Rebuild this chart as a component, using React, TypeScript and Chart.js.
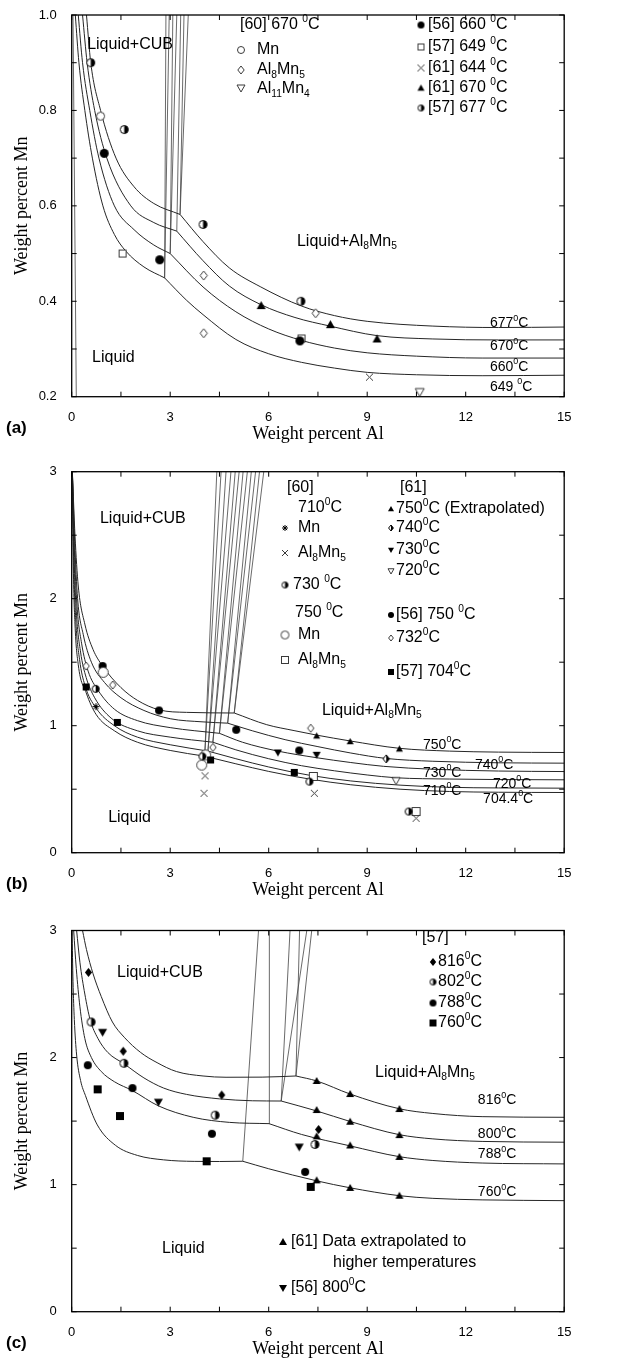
import React, { useEffect, useRef } from 'react';
import { Chart, registerables } from 'chart.js';

Chart.register(...registerables);

type P = [number, number];

// ---------- shared axes ----------
const X_TICKS = [0, 3, 6, 9, 12, 15];
const X_LABELS = ['0', '3', '6', '9', '12', '15'];
const X_MINOR = [1.5, 4.5, 7.5, 10.5, 13.5];
const A_Y_TICKS = [0.2, 0.4, 0.6, 0.8, 1.0];
const A_Y_LABELS = ['0.2', '0.4', '0.6', '0.8', '1.0'];
const A_Y_MINOR = [0.3, 0.5, 0.7, 0.9];
const BC_Y_TICKS = [0, 1, 2, 3];
const BC_Y_LABELS = ['0', '1', '2', '3'];
const BC_Y_MINOR = [0.5, 1.5, 2.5];

// ---------- panel (a) curves ----------
const a649L: P[] = [[0.11, 1.0], [0.22, 0.9], [0.4, 0.8], [0.63, 0.7], [0.95, 0.6], [1.3, 0.54], [1.65, 0.505], [2.2, 0.472], [2.83, 0.449]];
const a660L: P[] = [[0.2, 1.0], [0.33, 0.9], [0.55, 0.8], [0.83, 0.7], [1.3, 0.6], [1.9, 0.55], [2.5, 0.518], [3.0, 0.5]];
const a670L: P[] = [[0.33, 1.0], [0.47, 0.9], [0.7, 0.8], [1.07, 0.7], [1.8, 0.6], [2.5, 0.565], [3.2, 0.547]];
const a677L: P[] = [[0.45, 1.0], [0.58, 0.9], [0.88, 0.8], [1.35, 0.7], [1.9, 0.64], [2.5, 0.605], [3.3, 0.582]];
const a677R: P[] = [[3.3, 0.582], [4.0, 0.525], [4.8, 0.47], [5.76, 0.43], [7.0, 0.39], [8.0, 0.37], [9.0, 0.358], [11.0, 0.348], [13.0, 0.345], [15, 0.346]];
const a670R: P[] = [[3.2, 0.547], [4.0, 0.485], [4.8, 0.432], [5.76, 0.393], [6.8, 0.366], [7.87, 0.348], [9.3, 0.328], [11.0, 0.321], [13.0, 0.319], [15, 0.319]];
const a660R: P[] = [[3.0, 0.5], [4.0, 0.43], [5.0, 0.378], [6.0, 0.342], [7.0, 0.318], [8.0, 0.302], [9.0, 0.292], [10.5, 0.285], [12.5, 0.281], [15, 0.281]];
const a649R: P[] = [[2.83, 0.449], [3.5, 0.402], [4.0, 0.372], [5.0, 0.32], [6.0, 0.29], [7.0, 0.272], [8.0, 0.26], [9.0, 0.251], [10.5, 0.246], [12.5, 0.244], [15, 0.245]];
const aBounds: P[][] = [
  [[0.04, 1.0], [0.14, 0.2]],
  [[2.83, 0.449], [2.87, 1.0]], [[2.83, 0.449], [2.97, 1.0]],
  [[3.0, 0.5], [3.08, 1.0]], [[3.0, 0.5], [3.2, 1.0]],
  [[3.2, 0.547], [3.32, 1.0]],
  [[3.3, 0.582], [3.42, 1.0]], [[3.3, 0.582], [3.55, 1.0]],
];
// panel (a) measured points
const aMn60: P[] = [[0.88, 0.788]];
const aAl8Mn5_60: P[] = [[4.02, 0.454], [4.02, 0.333], [7.43, 0.375]];
const aAl11Mn4_60: P[] = [[10.6, 0.21]];
const a56_660: P[] = [[0.99, 0.71], [2.68, 0.487], [6.95, 0.317]];
const a57_649: P[] = [[1.55, 0.5], [7.0, 0.322]];
const a61_644: P[] = [[9.07, 0.241]];
const a61_670: P[] = [[5.77, 0.391], [7.88, 0.351], [9.3, 0.321]];
const a57_677: P[] = [[0.58, 0.9], [1.6, 0.76], [4.0, 0.561], [6.98, 0.4]];

// ---------- panel (b) curves ----------
const b750L: P[] = [[0.02, 3.0], [0.1, 2.5], [0.2, 2.1], [0.4, 1.8], [0.65, 1.6], [0.94, 1.47], [1.5, 1.3], [2.0, 1.2], [2.66, 1.125], [3.5, 1.105], [4.95, 1.1]];
const b740L: P[] = [[0.02, 3.0], [0.09, 2.45], [0.18, 2.0], [0.35, 1.72], [0.6, 1.5], [1.0, 1.34], [1.5, 1.22], [2.2, 1.12], [3.0, 1.055], [4.0, 1.03], [4.75, 1.02]];
const b730L: P[] = [[0.02, 3.0], [0.08, 2.4], [0.16, 1.95], [0.3, 1.65], [0.5, 1.43], [0.8, 1.28], [1.3, 1.13], [2.0, 1.04], [3.0, 0.985], [4.5, 0.94]];
const b720L: P[] = [[0.02, 3.0], [0.07, 2.35], [0.14, 1.9], [0.27, 1.58], [0.44, 1.38], [0.7, 1.22], [1.2, 1.06], [2.0, 0.96], [3.0, 0.91], [4.3, 0.87]];
const b710L: P[] = [[0.02, 3.0], [0.06, 2.3], [0.12, 1.85], [0.24, 1.52], [0.4, 1.32], [0.74, 1.14], [1.3, 1.0], [2.0, 0.91], [3.0, 0.85], [4.15, 0.8]];
const b704L: P[] = [[0.02, 3.0], [0.05, 2.25], [0.1, 1.8], [0.2, 1.48], [0.44, 1.26], [0.74, 1.09], [1.3, 0.96], [2.0, 0.87], [3.0, 0.805], [4.05, 0.76]];
const b750R: P[] = [[4.95, 1.1], [5.94, 1.008], [6.8, 0.96], [7.46, 0.926], [8.48, 0.88], [9.98, 0.822], [11.5, 0.8], [13, 0.792], [15, 0.789]];
const b740R: P[] = [[4.75, 1.02], [5.5, 0.96], [6.5, 0.89], [7.5, 0.835], [8.5, 0.785], [9.58, 0.742], [11, 0.72], [13, 0.708], [15, 0.705]];
const b730R: P[] = [[4.5, 0.94], [5.2, 0.87], [6.28, 0.8], [7.46, 0.748], [8.5, 0.71], [9.5, 0.68], [11, 0.657], [13, 0.643], [15, 0.639]];
const b720R: P[] = [[4.3, 0.87], [5.0, 0.81], [6.0, 0.74], [7.0, 0.685], [8.0, 0.645], [9.0, 0.612], [9.88, 0.59], [11.5, 0.58], [13, 0.576], [15, 0.574]];
const b710R: P[] = [[4.15, 0.8], [5.0, 0.74], [6.0, 0.675], [7.24, 0.61], [8.5, 0.565], [10, 0.532], [11.5, 0.515], [13, 0.51], [15, 0.508]];
const b704R: P[] = [[4.05, 0.76], [5.0, 0.7], [6.0, 0.64], [7.24, 0.58], [8.5, 0.535], [10, 0.5], [11.5, 0.482], [13, 0.476], [15, 0.474]];
const bBounds: P[][] = [
  [[4.05, 0.76], [4.42, 3]], [[4.05, 0.76], [4.55, 3]],
  [[4.15, 0.8], [4.7, 3]], [[4.15, 0.8], [4.85, 3]],
  [[4.3, 0.87], [4.98, 3]], [[4.3, 0.87], [5.1, 3]],
  [[4.5, 0.94], [5.22, 3]], [[4.5, 0.94], [5.35, 3]],
  [[4.75, 1.02], [5.47, 3]], [[4.75, 1.02], [5.6, 3]],
  [[4.95, 1.1], [5.72, 3]], [[4.95, 1.1], [5.85, 3]],
];
// panel (b) measured points
const bMn710: P[] = [[0.74, 1.15]];
const bAl710: P[] = [[4.06, 0.605], [4.03, 0.468], [7.39, 0.468], [10.49, 0.271]];
const b730_60: P[] = [[0.73, 1.29], [3.98, 0.758], [7.24, 0.56], [10.26, 0.324]];
const bMn750: P[] = [[0.96, 1.42], [3.96, 0.69], [4.08, 0.77]];
const bAl750: P[] = [[7.36, 0.6], [10.49, 0.324]];
const b61_750: P[] = [[7.46, 0.92], [8.48, 0.876], [9.98, 0.818]];
const b61_740: P[] = [[9.58, 0.739]];
const b61_730: P[] = [[6.28, 0.789], [7.46, 0.771]];
const b61_720: P[] = [[9.88, 0.568]];
const b56_750: P[] = [[0.94, 1.47], [2.66, 1.12], [5.01, 0.968], [6.93, 0.805]];
const b56_732: P[] = [[0.44, 1.47], [1.25, 1.32], [4.3, 0.829], [7.28, 0.98]];
const b57_704: P[] = [[0.44, 1.305], [1.39, 1.026], [4.23, 0.73], [6.78, 0.632]];

// ---------- panel (c) curves ----------
const c816L: P[] = [[0.33, 3.0], [0.45, 2.85], [0.65, 2.66], [0.9, 2.48], [1.24, 2.28], [1.6, 2.16], [2.1, 2.04], [2.6, 1.96], [3.19, 1.89], [4.0, 1.855], [4.7, 1.845], [5.8, 1.846], [6.83, 1.855]];
const c800L: P[] = [[0.15, 3.0], [0.25, 2.75], [0.4, 2.5], [0.56, 2.3], [0.8, 2.15], [1.1, 2.04], [1.6, 1.95], [2.2, 1.84], [2.8, 1.76], [3.5, 1.71], [4.5, 1.675], [5.5, 1.66], [6.38, 1.658]];
const c788L: P[] = [[0.06, 3.0], [0.14, 2.7], [0.25, 2.4], [0.4, 2.15], [0.6, 2.0], [0.9, 1.89], [1.3, 1.81], [1.85, 1.74], [2.64, 1.62], [3.7, 1.53], [4.8, 1.49], [6.01, 1.48]];
const c760L: P[] = [[0.01, 3.0], [0.04, 2.6], [0.08, 2.3], [0.15, 2.02], [0.27, 1.82], [0.42, 1.7], [0.78, 1.47], [1.33, 1.31], [2.0, 1.23], [2.8, 1.195], [3.73, 1.183], [4.5, 1.182], [5.21, 1.184]];
const c816R: P[] = [[6.83, 1.855], [7.46, 1.816], [8.48, 1.713], [9.98, 1.597], [11, 1.56], [12.5, 1.535], [15, 1.53]];
const c800R: P[] = [[6.38, 1.658], [7.46, 1.58], [8.48, 1.497], [9.98, 1.393], [11, 1.36], [12.5, 1.34], [15, 1.334]];
const c788R: P[] = [[6.01, 1.48], [7.0, 1.395], [8.48, 1.305], [9.98, 1.22], [11, 1.19], [12.5, 1.17], [15, 1.163]];
const c760R: P[] = [[5.21, 1.184], [6.0, 1.125], [7.46, 1.03], [8.48, 0.975], [9.98, 0.913], [11, 0.892], [12.5, 0.88], [15, 0.874]];
const cBounds: P[][] = [
  [[5.21, 1.184], [5.69, 3]],
  [[6.01, 1.48], [6.02, 3]],
  [[6.38, 1.658], [6.65, 3]],
  [[6.38, 1.658], [7.16, 3]],
  [[6.83, 1.855], [6.94, 3]],
  [[6.83, 1.855], [7.31, 3]],
];
// panel (c) measured points
const c57_816: P[] = [[0.51, 2.67], [1.57, 2.05], [4.57, 1.705], [7.52, 1.434]];
const c57_802: P[] = [[0.59, 2.28], [1.59, 1.955], [4.37, 1.547], [7.41, 1.316]];
const c57_788: P[] = [[0.49, 1.94], [1.85, 1.76], [4.27, 1.4], [7.11, 1.1]];
const c57_760: P[] = [[0.79, 1.75], [1.47, 1.54], [4.11, 1.184], [7.28, 0.982]];
const c61_extra: P[] = [[7.46, 1.816], [8.48, 1.713], [9.98, 1.595], [7.46, 1.587], [8.48, 1.495], [9.98, 1.39], [7.46, 1.38], [8.48, 1.308], [9.98, 1.218], [7.46, 1.034], [8.48, 0.974], [9.98, 0.913]];
const c56_800: P[] = [[0.94, 2.2], [2.64, 1.65], [6.93, 1.297]];

// ---------- drawing helpers ----------
const SANS = "'Liberation Sans', Arial, Helvetica, sans-serif";
const SERIF = "'Liberation Serif', 'Times New Roman', serif";
const W = 644;
const LEFT = 71.7;
const RIGHT = 564.2;

const markerCache: Record<string, HTMLCanvasElement> = {};
function marker(kind: string, size: number): HTMLCanvasElement {
  const key = kind + '_' + size;
  if (markerCache[key]) return markerCache[key];
  const S = Math.round(size) + 4;
  const c = document.createElement('canvas');
  c.width = S; c.height = S;
  const g = c.getContext('2d') as CanvasRenderingContext2D;
  const m = S / 2, r = size / 2;
  const INK = '#000', OPEN = '#3a3a3a';
  g.lineWidth = 1;
  const poly = (pts: number[][]) => {
    g.beginPath();
    pts.forEach(([x, y], i) => (i ? g.lineTo(x, y) : g.moveTo(x, y)));
    g.closePath();
  };
  const circ = (rr: number) => { g.beginPath(); g.arc(m, m, rr, 0, Math.PI * 2); };
  const dia = [[m, m - r], [m + r * 0.8, m], [m, m + r], [m - r * 0.8, m]];
  const tDown = [[m, m + r], [m + r, m - r * 0.75], [m - r, m - r * 0.75]];
  switch (kind) {
    case 'circleFill': circ(r); g.fillStyle = INK; g.fill(); break;
    case 'circleOpen': circ(r - 0.5); g.fillStyle = '#fff'; g.fill(); g.strokeStyle = OPEN; g.stroke(); break;
    case 'halfCircle':
      circ(r - 0.5); g.fillStyle = '#fff'; g.fill();
      g.beginPath(); g.moveTo(m, m - r + 0.5); g.arc(m, m, r - 0.5, -Math.PI / 2, Math.PI / 2); g.closePath(); g.fillStyle = INK; g.fill();
      circ(r - 0.5); g.strokeStyle = INK; g.stroke(); break;
    case 'diamondOpen': poly(dia); g.fillStyle = '#fff'; g.fill(); g.strokeStyle = OPEN; g.stroke(); break;
    case 'diamondFill': poly(dia); g.fillStyle = INK; g.fill(); break;
    case 'halfDiamond':
      poly(dia); g.fillStyle = '#fff'; g.fill();
      poly([[m, m - r], [m + r * 0.8, m], [m, m + r]]); g.fillStyle = INK; g.fill();
      poly(dia); g.strokeStyle = INK; g.stroke(); break;
    case 'squareOpen':
      g.fillStyle = '#fff'; g.fillRect(m - r + 0.5, m - r + 0.5, size - 1, size - 1);
      g.strokeStyle = OPEN; g.strokeRect(m - r + 0.5, m - r + 0.5, size - 1, size - 1); break;
    case 'squareFill': g.fillStyle = INK; g.fillRect(m - r, m - r, size, size); break;
    case 'triUp': poly([[m, m - r], [m + r, m + r * 0.75], [m - r, m + r * 0.75]]); g.fillStyle = INK; g.fill(); break;
    case 'triDown': poly(tDown); g.fillStyle = INK; g.fill(); break;
    case 'triDownOpen': poly(tDown); g.fillStyle = '#fff'; g.fill(); g.strokeStyle = OPEN; g.stroke(); break;
    case 'cross':
      g.beginPath(); g.moveTo(m - r, m - r); g.lineTo(m + r, m + r); g.moveTo(m + r, m - r); g.lineTo(m - r, m + r);
      g.strokeStyle = OPEN; g.stroke(); break;
    case 'star':
      g.beginPath();
      for (let k = 0; k < 4; k++) {
        const a = (k * Math.PI) / 4;
        g.moveTo(m + r * Math.cos(a), m + r * Math.sin(a));
        g.lineTo(m - r * Math.cos(a), m - r * Math.sin(a));
      }
      g.strokeStyle = INK; g.stroke(); break;
  }
  markerCache[key] = c;
  return c;
}

function drawRich(ctx: CanvasRenderingContext2D, segs: string[], x: number, y: number, size: number, align: 'left' | 'center' = 'left') {
  const parts = segs.map((s) => {
    if (s.startsWith('^')) return { t: s.slice(1), sz: size * 0.64, dy: -size * 0.36 };
    if (s.startsWith('_')) return { t: s.slice(1), sz: size * 0.64, dy: size * 0.3 };
    return { t: s, sz: size, dy: 0 };
  });
  let w = 0;
  parts.forEach((p) => { ctx.font = `${p.sz}px ${SANS}`; w += ctx.measureText(p.t).width; });
  let cx = align === 'center' ? x - w / 2 : x;
  ctx.textBaseline = 'middle';
  ctx.textAlign = 'left';
  ctx.fillStyle = '#000';
  parts.forEach((p) => {
    ctx.font = `${p.sz}px ${SANS}`;
    ctx.fillText(p.t, cx, y + p.dy);
    cx += ctx.measureText(p.t).width;
  });
}

type Txt = { segs: string[]; x: number; y: number; size: number };
type Mk = { kind: string; size: number; pts: P[] };
type LMk = { kind: string; size: number; x: number; y: number };
interface Spec {
  h: number; top: number; bottom: number; tag: string;
  yMin: number; yMax: number; yTicks: number[]; yLabels: string[]; yMinor: number[];
  curves: P[][]; bounds: P[][]; markers: Mk[];
  dataText: Txt[]; pxText: Txt[]; legendMarks: LMk[];
}

const DEG = (t: string) => [t, '^0', 'C'];
const AL8 = ['Al', '_8', 'Mn', '_5'];

const specA: Spec = {
  h: 453, top: 15, bottom: 396.7, tag: '(a)',
  yMin: 0.2, yMax: 1.0, yTicks: A_Y_TICKS, yLabels: A_Y_LABELS, yMinor: A_Y_MINOR,
  curves: [a649L, a660L, a670L, a677L, a649R, a660R, a670R, a677R],
  bounds: aBounds,
  markers: [
    { kind: 'circleFill', size: 9, pts: a56_660 },
    { kind: 'circleOpen', size: 9, pts: aMn60 },
    { kind: 'diamondOpen', size: 9, pts: aAl8Mn5_60 },
    { kind: 'triDownOpen', size: 9, pts: aAl11Mn4_60 },
    { kind: 'squareOpen', size: 8, pts: a57_649 },
    { kind: 'cross', size: 7, pts: a61_644 },
    { kind: 'triUp', size: 9, pts: a61_670 },
    { kind: 'halfCircle', size: 9, pts: a57_677 },
  ],
  dataText: [
    { segs: ['Liquid+CUB'], x: 0.47, y: 0.939, size: 16 },
    { segs: ['Liquid+', ...AL8], x: 6.86, y: 0.525, size: 16 },
    { segs: ['Liquid'], x: 0.62, y: 0.283, size: 16 },
    { segs: DEG('677'), x: 12.74, y: 0.354, size: 14 },
    { segs: DEG('670'), x: 12.74, y: 0.306, size: 14 },
    { segs: DEG('660'), x: 12.74, y: 0.263, size: 14 },
    { segs: DEG('649 '), x: 12.74, y: 0.221, size: 14 },
  ],
  pxText: [
    { segs: DEG('[60] 670 '), x: 240, y: 25, size: 16 },
    { segs: ['Mn'], x: 257, y: 50, size: 16 },
    { segs: AL8, x: 257, y: 70, size: 16 },
    { segs: ['Al', '_11', 'Mn', '_4'], x: 257, y: 89, size: 16 },
    { segs: DEG('[56] 660 '), x: 428, y: 25, size: 16 },
    { segs: DEG('[57] 649 '), x: 428, y: 47, size: 16 },
    { segs: DEG('[61] 644 '), x: 428, y: 68, size: 16 },
    { segs: DEG('[61] 670 '), x: 428, y: 88, size: 16 },
    { segs: DEG('[57] 677 '), x: 428, y: 108, size: 16 },
  ],
  legendMarks: [
    { kind: 'circleOpen', size: 8, x: 241, y: 50 },
    { kind: 'diamondOpen', size: 8, x: 241, y: 70 },
    { kind: 'triDownOpen', size: 8, x: 241, y: 88 },
    { kind: 'circleFill', size: 7, x: 421, y: 25 },
    { kind: 'squareOpen', size: 7, x: 421, y: 47 },
    { kind: 'cross', size: 7, x: 421, y: 68 },
    { kind: 'triUp', size: 7, x: 421, y: 88 },
    { kind: 'halfCircle', size: 7, x: 421, y: 108 },
  ],
};

const specB: Spec = {
  h: 453, top: 18.7, bottom: 399.7, tag: '(b)',
  yMin: 0, yMax: 3, yTicks: BC_Y_TICKS, yLabels: BC_Y_LABELS, yMinor: BC_Y_MINOR,
  curves: [b750L, b740L, b730L, b720L, b710L, b704L, b750R, b740R, b730R, b720R, b710R, b704R],
  bounds: bBounds,
  markers: [
    { kind: 'star', size: 7, pts: bMn710 },
    { kind: 'cross', size: 7, pts: bAl710 },
    { kind: 'halfCircle', size: 8, pts: b730_60 },
    { kind: 'squareFill', size: 7, pts: b57_704 },
    { kind: 'circleOpen', size: 11, pts: bMn750 },
    { kind: 'squareOpen', size: 9, pts: bAl750 },
    { kind: 'triUp', size: 7, pts: b61_750 },
    { kind: 'halfDiamond', size: 8, pts: b61_740 },
    { kind: 'triDown', size: 8, pts: b61_730 },
    { kind: 'triDownOpen', size: 8, pts: b61_720 },
    { kind: 'circleFill', size: 8, pts: b56_750 },
    { kind: 'diamondOpen', size: 8, pts: b56_732 },
  ],
  dataText: [
    { segs: ['Liquid+CUB'], x: 0.86, y: 2.63, size: 16 },
    { segs: ['Liquid+', ...AL8], x: 7.62, y: 1.12, size: 16 },
    { segs: ['Liquid'], x: 1.11, y: 0.28, size: 16 },
    { segs: DEG('750'), x: 10.7, y: 0.848, size: 14 },
    { segs: DEG('740'), x: 12.28, y: 0.692, size: 14 },
    { segs: DEG('730'), x: 10.7, y: 0.629, size: 14 },
    { segs: DEG('720'), x: 12.83, y: 0.543, size: 14 },
    { segs: DEG('710'), x: 10.7, y: 0.488, size: 14 },
    { segs: DEG('704.4'), x: 12.53, y: 0.425, size: 14 },
  ],
  pxText: [
    { segs: ['[60]'], x: 287, y: 35, size: 16 },
    { segs: DEG('710'), x: 298, y: 55, size: 16 },
    { segs: ['Mn'], x: 298, y: 75, size: 16 },
    { segs: AL8, x: 298, y: 100, size: 16 },
    { segs: DEG('730 '), x: 293, y: 132, size: 16 },
    { segs: DEG('750 '), x: 295, y: 160, size: 16 },
    { segs: ['Mn'], x: 298, y: 182, size: 16 },
    { segs: AL8, x: 298, y: 207, size: 16 },
    { segs: ['[61]'], x: 400, y: 35, size: 16 },
    { segs: ['750', '^0', 'C (Extrapolated)'], x: 396, y: 56, size: 16 },
    { segs: DEG('740'), x: 396, y: 75, size: 16 },
    { segs: DEG('730'), x: 396, y: 97, size: 16 },
    { segs: DEG('720'), x: 396, y: 118, size: 16 },
    { segs: DEG('[56] 750 '), x: 396, y: 162, size: 16 },
    { segs: DEG('732'), x: 396, y: 185, size: 16 },
    { segs: DEG('[57] 704'), x: 396, y: 219, size: 16 },
  ],
  legendMarks: [
    { kind: 'star', size: 6, x: 285, y: 75 },
    { kind: 'cross', size: 6, x: 285, y: 100 },
    { kind: 'halfCircle', size: 7, x: 285, y: 132 },
    { kind: 'circleOpen', size: 9, x: 285, y: 182 },
    { kind: 'squareOpen', size: 8, x: 285, y: 207 },
    { kind: 'triUp', size: 6, x: 391, y: 56 },
    { kind: 'halfDiamond', size: 6, x: 391, y: 75 },
    { kind: 'triDown', size: 6, x: 391, y: 97 },
    { kind: 'triDownOpen', size: 6, x: 391, y: 118 },
    { kind: 'circleFill', size: 6, x: 391, y: 162 },
    { kind: 'diamondOpen', size: 6, x: 391, y: 185 },
    { kind: 'squareFill', size: 6, x: 391, y: 219 },
  ],
};

const specC: Spec = {
  h: 453, top: 24.5, bottom: 405.7, tag: '(c)',
  yMin: 0, yMax: 3, yTicks: BC_Y_TICKS, yLabels: BC_Y_LABELS, yMinor: BC_Y_MINOR,
  curves: [c816L, c800L, c788L, c760L, c816R, c800R, c788R, c760R],
  bounds: cBounds,
  markers: [
    { kind: 'diamondFill', size: 9, pts: c57_816 },
    { kind: 'halfCircle', size: 9, pts: c57_802 },
    { kind: 'circleFill', size: 8, pts: c57_788 },
    { kind: 'squareFill', size: 8, pts: c57_760 },
    { kind: 'triUp', size: 8, pts: c61_extra },
    { kind: 'triDown', size: 9, pts: c56_800 },
  ],
  dataText: [
    { segs: ['Liquid+CUB'], x: 1.38, y: 2.67, size: 16 },
    { segs: ['Liquid+', ...AL8], x: 9.24, y: 1.88, size: 16 },
    { segs: ['Liquid'], x: 2.75, y: 0.5, size: 16 },
    { segs: DEG('816'), x: 12.37, y: 1.665, size: 14 },
    { segs: DEG('800'), x: 12.37, y: 1.395, size: 14 },
    { segs: DEG('788'), x: 12.37, y: 1.237, size: 14 },
    { segs: DEG('760'), x: 12.37, y: 0.939, size: 14 },
  ],
  pxText: [
    { segs: ['[57]'], x: 422, y: 32, size: 16 },
    { segs: DEG('816'), x: 438, y: 56, size: 16 },
    { segs: DEG('802'), x: 438, y: 76, size: 16 },
    { segs: DEG('788'), x: 438, y: 97, size: 16 },
    { segs: DEG('760'), x: 438, y: 117, size: 16 },
    { segs: ['[61] Data extrapolated to'], x: 291, y: 336, size: 16 },
    { segs: ['higher temperatures'], x: 333, y: 357, size: 16 },
    { segs: DEG('[56] 800'), x: 291, y: 382, size: 16 },
  ],
  legendMarks: [
    { kind: 'diamondFill', size: 8, x: 433, y: 56 },
    { kind: 'halfCircle', size: 7, x: 433, y: 76 },
    { kind: 'circleFill', size: 7, x: 433, y: 97 },
    { kind: 'squareFill', size: 7, x: 433, y: 117 },
    { kind: 'triUp', size: 8, x: 283, y: 336 },
    { kind: 'triDown', size: 8, x: 283, y: 382 },
  ],
};

function decor(s: Spec) {
  return {
    id: 'decor',
    afterDraw(chart: any) {
      const ctx: CanvasRenderingContext2D = chart.ctx;
      const ca = chart.chartArea;
      const xs = chart.scales.x, ys = chart.scales.y;
      ctx.save();
      const TL = 5;
      ctx.strokeStyle = '#000';
      ctx.lineWidth = 1;
      ctx.beginPath();
      [...X_TICKS, ...X_MINOR].forEach((v) => {
        const px = xs.getPixelForValue(v);
        ctx.moveTo(px, ca.bottom); ctx.lineTo(px, ca.bottom - TL);
        ctx.moveTo(px, ca.top); ctx.lineTo(px, ca.top + TL);
      });
      [...s.yTicks, ...s.yMinor].forEach((v) => {
        const py = ys.getPixelForValue(v);
        ctx.moveTo(ca.left, py); ctx.lineTo(ca.left + TL, py);
        ctx.moveTo(ca.right, py); ctx.lineTo(ca.right - TL, py);
      });
      ctx.stroke();
      ctx.lineWidth = 1.3;
      ctx.strokeRect(ca.left, ca.top, ca.right - ca.left, ca.bottom - ca.top);
      s.dataText.forEach((t) => drawRich(ctx, t.segs, xs.getPixelForValue(t.x), ys.getPixelForValue(t.y), t.size));
      s.pxText.forEach((t) => drawRich(ctx, t.segs, t.x, t.y, t.size));
      s.legendMarks.forEach((m) => {
        const im = marker(m.kind, m.size);
        ctx.drawImage(im, m.x - im.width / 2, m.y - im.height / 2);
      });
      ctx.fillStyle = '#000';
      ctx.textAlign = 'center';
      ctx.textBaseline = 'middle';
      ctx.font = `18px ${SERIF}`;
      ctx.fillText('Weight percent Al', (ca.left + ca.right) / 2, ca.bottom + 38);
      ctx.save();
      ctx.translate(22, (ca.top + ca.bottom) / 2);
      ctx.rotate(-Math.PI / 2);
      ctx.fillText('Weight percent Mn', 0, 0);
      ctx.restore();
      ctx.textAlign = 'left';
      ctx.font = `bold 17px ${SANS}`;
      ctx.fillText(s.tag, 6, ca.bottom + 32);
      ctx.restore();
    },
  };
}

function buildConfig(s: Spec): any {
  const datasets: any[] = [];
  s.markers.forEach((m) =>
    datasets.push({
      data: m.pts.map(([x, y]) => ({ x, y })),
      showLine: false,
      pointStyle: marker(m.kind, m.size),
      pointRadius: 4,
      pointHoverRadius: 4,
      order: 0,
    })
  );
  s.curves.forEach((c) =>
    datasets.push({
      data: c.map(([x, y]) => ({ x, y })),
      showLine: true,
      pointRadius: 0,
      borderColor: '#262626',
      borderWidth: 1,
      cubicInterpolationMode: 'monotone',
      fill: false,
      order: 1,
    })
  );
  s.bounds.forEach((l) =>
    datasets.push({
      data: l.map(([x, y]) => ({ x, y })),
      showLine: true,
      pointRadius: 0,
      borderColor: '#444',
      borderWidth: 0.8,
      tension: 0,
      fill: false,
      order: 1,
    })
  );
  return {
    type: 'line',
    data: { datasets },
    options: {
      responsive: false,
      animation: false,
      devicePixelRatio: 1,
      events: [],
      layout: { padding: { left: 0, right: W - RIGHT, top: s.top, bottom: 0 } },
      plugins: { legend: { display: false }, tooltip: { enabled: false } },
      scales: {
        x: {
          type: 'linear',
          min: 0,
          max: 15,
          grid: { display: false },
          border: { display: false },
          ticks: {
            autoSkip: false,
            maxRotation: 0,
            padding: 5,
            color: '#000',
            font: { family: SANS, size: 13 },
            callback: (_v: any, i: number) => X_LABELS[i] ?? '',
          },
          afterBuildTicks: (sc: any) => { sc.ticks = X_TICKS.map((v) => ({ value: v })); },
          afterFit: (sc: any) => { sc.height = s.h - s.bottom; },
        },
        y: {
          type: 'linear',
          min: s.yMin,
          max: s.yMax,
          grid: { display: false },
          border: { display: false },
          ticks: {
            autoSkip: false,
            padding: 7,
            color: '#000',
            font: { family: SANS, size: 13 },
            callback: (_v: any, i: number) => s.yLabels[i] ?? '',
          },
          afterBuildTicks: (sc: any) => { sc.ticks = s.yTicks.map((v) => ({ value: v })); },
          afterFit: (sc: any) => { sc.width = LEFT; },
        },
      },
    },
    plugins: [decor(s)],
  };
}

function Panel({ spec }: { spec: Spec }) {
  const ref = useRef<HTMLCanvasElement>(null);
  useEffect(() => {
    const chart = new Chart(ref.current as HTMLCanvasElement, buildConfig(spec));
    return () => chart.destroy();
  }, [spec]);
  return <canvas ref={ref} width={W} height={spec.h} style={{ display: 'block', width: W, height: spec.h }} />;
}

export default function App() {
  useEffect(() => {
    document.body.style.margin = '0';
    document.body.style.background = '#fff';
  }, []);
  return (
    <div style={{ position: 'absolute', left: 0, top: 0, width: W, height: 1359, background: '#fff' }}>
      <Panel spec={specA} />
      <Panel spec={specB} />
      <Panel spec={specC} />
    </div>
  );
}
